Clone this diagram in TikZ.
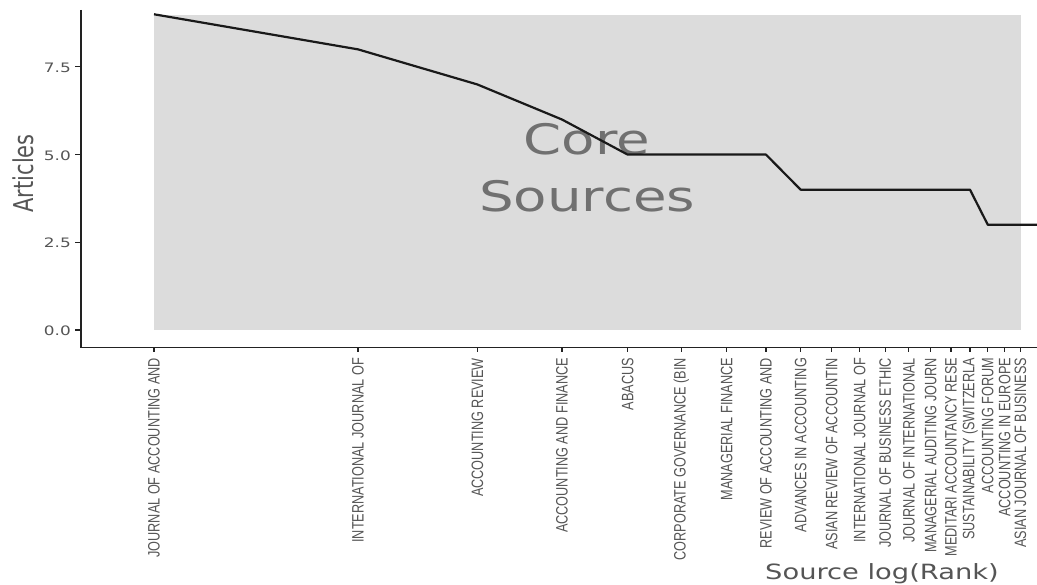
\documentclass[tikz,border=0pt]{standalone}
\usepackage{fontspec}
\setmainfont{DejaVu Sans}
\newfontfamily\labfont{Liberation Sans}
\definecolor{panelgray}{HTML}{DCDCDC}
\definecolor{textgray}{HTML}{555555}
\definecolor{coregray}{HTML}{707070}
\definecolor{axisdark}{HTML}{222222}
\tikzset{
  axisline/.style={draw=axisdark, line width=1.5pt},
  tickmark/.style={draw=axisdark, line width=1.2pt},
  dataline/.style={draw=black!90, line width=2.2pt, line join=round},
  ylab/.style={anchor=east, inner sep=0pt, text=textgray, font=\fontsize{13}{15}\selectfont},
  xlab/.style={rotate=90, anchor=east, inner sep=0pt, text=textgray, font=\labfont\fontsize{12.7}{14}\selectfont},
  axtitle/.style={inner sep=0pt, text=textgray, font=\fontsize{21}{24}\selectfont},
  coretext/.style={anchor=base, inner sep=0pt, text=coregray, font=\fontsize{42}{50}\selectfont}
}
\begin{document}
\begin{tikzpicture}[x=1pt,y=1pt]
\useasboundingbox (0,0) rectangle (1037,-585);
% panel
\fill[panelgray] (154,-14.8) rectangle (1020.5,-330);
% core sources text
\node[coretext] (core) at (587,-155) {\scalebox{1.3}[1]{Core}};
\node[coretext] (sources) at (587,-211.7) {\scalebox{1.3}[1]{Sources}};
% data line
\foreach \i/\v in {1/9,2/8,3/7,4/6,5/5,6/5,7/5,8/5,9/4,10/4,11/4,12/4,13/4,14/4,15/4,16/4,17/3,18/3,19/3,20/3}
  \coordinate (p\i) at ({154+294.3*ln(\i)},{-330+35.08*\v});
\coordinate (pend) at (1037,{-330+35.08*3});
\draw[dataline] (p1) -- (p2) -- (p3) -- (p4) -- (p5) -- (p6) -- (p7) -- (p8) -- (p9) -- (p10) -- (p11) -- (p12) -- (p13) -- (p14) -- (p15) -- (p16) -- (p17) -- (p18) -- (p19) -- (p20) -- (pend);
% axes
\coordinate (ytop) at (81,-10);
\coordinate (origin) at (81,-347.3);
\coordinate (xend) at (1037,-347.3);
\draw[axisline] (ytop) -- (origin) -- (xend);
% y ticks
\foreach \k/\v/\t in {0/0/0.0,1/2.5/2.5,2/5/5.0,3/7.5/7.5}{
  \coordinate (yt\k) at (81,{-330+35.08*\v});
  \draw[tickmark] (yt\k) -- ++(-6,0);
  \node[ylab] (yl\k) at ([xshift=-10pt,yshift=-0.8pt]yt\k) {\scalebox{1.3}[1]{\t}};
}
% x ticks and labels
\foreach \i/\lab in {1/{JOURNAL OF ACCOUNTING AND},2/{INTERNATIONAL JOURNAL OF},3/{ACCOUNTING REVIEW},4/{ACCOUNTING AND FINANCE},5/{ABACUS},6/{CORPORATE GOVERNANCE (BIN},7/{MANAGERIAL FINANCE},8/{REVIEW OF ACCOUNTING AND},9/{ADVANCES IN ACCOUNTING},10/{ASIAN REVIEW OF ACCOUNTIN},11/{INTERNATIONAL JOURNAL OF},12/{JOURNAL OF BUSINESS ETHIC},13/{JOURNAL OF INTERNATIONAL},14/{MANAGERIAL AUDITING JOURN},15/{MEDITARI ACCOUNTANCY RESE},16/{SUSTAINABILITY (SWITZERLA},17/{ACCOUNTING FORUM},18/{ACCOUNTING IN EUROPE},19/{ASIAN JOURNAL OF BUSINESS}}{
  \coordinate (t\i) at ({154+294.3*ln(\i)},-347.3);
  \draw[tickmark] (t\i) -- ++(0,-4.6);
  \node[xlab] (l\i) at ([yshift=-10.5pt]t\i) {\scalebox{1}[1.3]{\lab}};
}
% axis titles
\node[axtitle, anchor=base] (xtitle) at (882,-579.3) {\scalebox{1.3}[1]{Source log(Rank)}};
\node[axtitle, rotate=90, anchor=base] (ytitle) at (33,-173.4) {\scalebox{1}[1.3]{Articles}};
\end{tikzpicture}
\end{document}
